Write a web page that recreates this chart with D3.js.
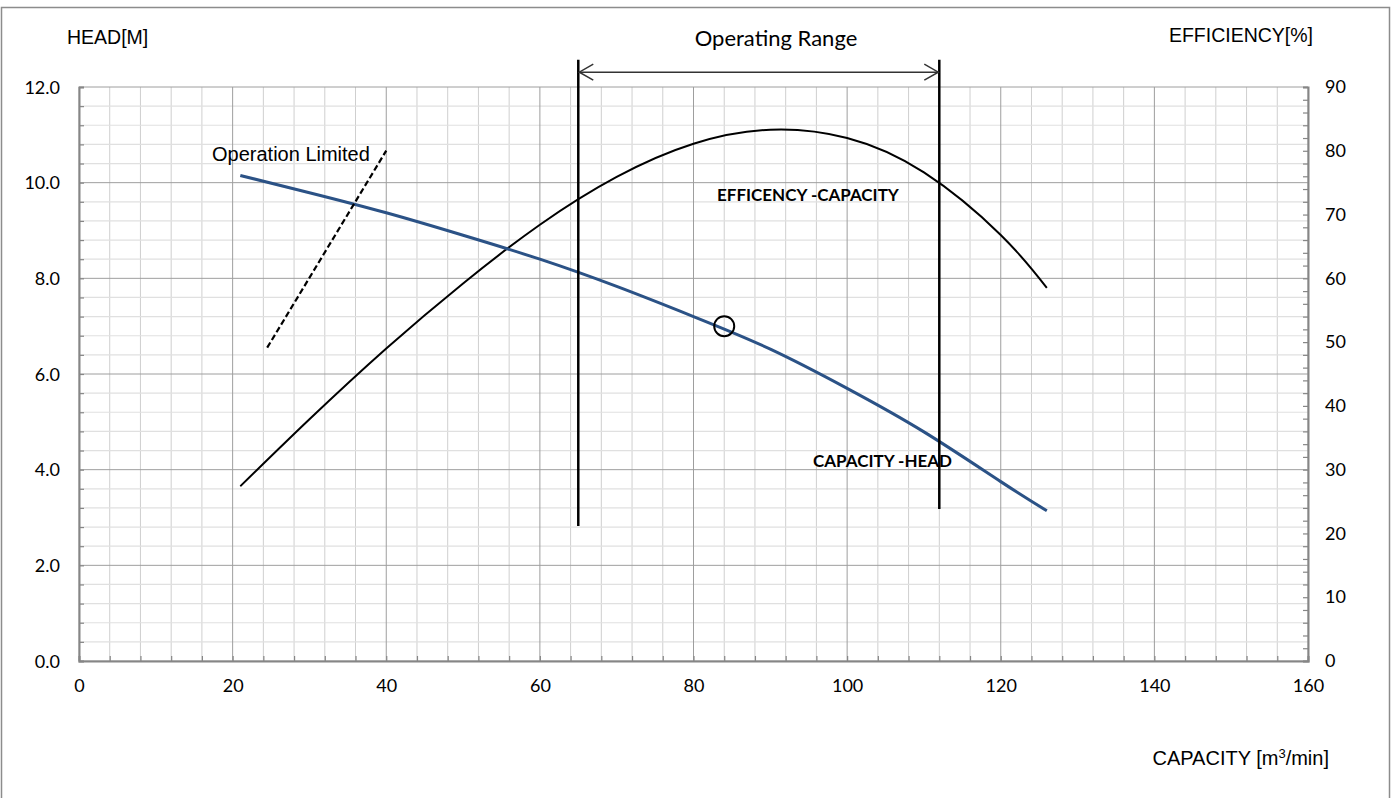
<!DOCTYPE html>
<html>
<head>
<meta charset="utf-8">
<script src="https://cdn.jsdelivr.net/npm/d3@7"></script>
<style>
  body { margin: 0; background: #fff; }
  text { fill: #000; }
</style>
</head>
<body>
<div id="chart"></div>
<script>
// head curve (capacity m3/min -> head m)
const headCapacity = [21, 30, 40, 50, 60, 70, 80, 90, 100, 110, 120, 126];
const headValues = [10.15, 9.79, 9.37, 8.9, 8.4, 7.83, 7.2, 6.52, 5.7, 4.79, 3.75, 3.14];

// efficiency curve (capacity -> %)
const effCapacity = [21, 30, 40, 50, 60, 70, 80, 90, 100, 110, 120, 126];
const effValues = [27.4, 37.9, 49.0, 59.2, 68.4, 75.9, 81.1, 83.3, 82.0, 76.6, 66.8, 58.5];

// operation limited dashed line, in head units
const limitCapacity = [24.5, 40];
const limitHead = [6.55, 10.67];

// rated point
const ratedPoint = { capacity: 84, head: 7.0 };

// operating range bounds (capacity) and how far the vertical lines run (head)
const rangeCapacity = [65, 112];
const rangeBottomHead = [2.82, 3.18];
const rangeTopHead = 12.57;
const rangeArrowHead = 12.31;

const xTicks = [0, 20, 40, 60, 80, 100, 120, 140, 160];
const headTicks = [0, 2, 4, 6, 8, 10, 12];
const effTicks = [0, 10, 20, 30, 40, 50, 60, 70, 80, 90];

const W = 1395, H = 798;
const margin = { top: 87, right: 87, bottom: 137, left: 79 };
const width = W - margin.left - margin.right;
const height = H - margin.top - margin.bottom;

const svg = d3.select("#chart").append("svg")
    .attr("width", W)
    .attr("height", H);

// outer chart border
svg.append("rect")
    .attr("x", 1.5).attr("y", 7.5)
    .attr("width", 1388).attr("height", 820)
    .attr("fill", "none")
    .attr("stroke", "#8c8c8c")
    .attr("stroke-width", 1.5);

const g = svg.append("g")
    .attr("transform", `translate(${margin.left},${margin.top})`);

const x = d3.scaleLinear().domain([0, 160]).range([0, width]);
const yHead = d3.scaleLinear().domain([0, 12]).range([height, 0]);
const yEff = d3.scaleLinear().domain([0, 90]).range([height, 0]);

// grid: minor first, then major
const minorX = d3.range(0, 161, 4).filter(v => v % 20 !== 0);
const minorY = d3.range(0, 12.01, 0.4).filter(v => Math.abs(v / 2 - Math.round(v / 2)) > 0.01);

g.selectAll(".vminor").data(minorX).enter().append("line")
    .attr("x1", d => x(d)).attr("x2", d => x(d))
    .attr("y1", 0).attr("y2", height)
    .attr("stroke", "#cfcfcf").attr("stroke-width", 1);

g.selectAll(".hminor").data(minorY).enter().append("line")
    .attr("x1", 0).attr("x2", width)
    .attr("y1", d => yHead(d)).attr("y2", d => yHead(d))
    .attr("stroke", "#e0e0e0").attr("stroke-width", 1.2);

g.selectAll(".vmajor").data(xTicks).enter().append("line")
    .attr("x1", d => x(d)).attr("x2", d => x(d))
    .attr("y1", 0).attr("y2", height)
    .attr("stroke", "#9e9e9e").attr("stroke-width", 1);

g.selectAll(".hmajor").data(headTicks).enter().append("line")
    .attr("x1", 0).attr("x2", width)
    .attr("y1", d => yHead(d)).attr("y2", d => yHead(d))
    .attr("stroke", "#9e9e9e").attr("stroke-width", 1);

// axes
const axisColor = "#868686";
const tickFont = "Lato, 'Open Sans', sans-serif";

const xAxis = g.append("g")
    .attr("transform", `translate(0,${height})`)
    .call(d3.axisBottom(x).tickValues(d3.range(0, 161, 4)).tickSize(-5).tickFormat(""));
const xLabels = g.append("g")
    .attr("transform", `translate(0,${height})`)
    .call(d3.axisBottom(x).tickValues(xTicks).tickSize(0).tickPadding(18).tickFormat(d3.format("d")));

const yAxis = g.append("g")
    .call(d3.axisLeft(yHead).tickValues(d3.range(0, 12.01, 0.4)).tickSize(-5).tickFormat(""));
const yLabels = g.append("g")
    .call(d3.axisLeft(yHead).tickValues(headTicks).tickSize(0).tickPadding(19).tickFormat(d3.format(".1f")));

const y2Axis = g.append("g")
    .attr("transform", `translate(${width},0)`)
    .call(d3.axisRight(yEff).tickValues(d3.range(0, 91, 2)).tickSize(-5).tickFormat(""));
const y2Labels = g.append("g")
    .attr("transform", `translate(${width},0)`)
    .call(d3.axisRight(yEff).tickValues(effTicks).tickSize(0).tickPadding(17).tickFormat(d3.format("d")));

[xAxis, yAxis, y2Axis].forEach(a => {
    a.select(".domain").attr("stroke", axisColor).attr("stroke-width", 2);
    a.selectAll(".tick line").attr("stroke", axisColor).attr("stroke-width", 1.2);
});
[xLabels, yLabels, y2Labels].forEach(a => {
    a.select(".domain").remove();
    a.selectAll("text")
        .attr("fill", "#000")
        .style("font-family", tickFont)
        .style("font-size", "18px");
});
yLabels.selectAll("text").attr("dy", "0.35em");

// curves
const headData = headCapacity.map((c, i) => ({ c, v: headValues[i] }));
const effData = effCapacity.map((c, i) => ({ c, v: effValues[i] }));

g.append("path")
    .datum(effData)
    .attr("fill", "none")
    .attr("stroke", "#000")
    .attr("stroke-width", 2)
    .attr("d", d3.line().x(d => x(d.c)).y(d => yEff(d.v)).curve(d3.curveNatural));

g.append("path")
    .datum(headData)
    .attr("fill", "none")
    .attr("stroke", "#2b5286")
    .attr("stroke-width", 3)
    .attr("d", d3.line().x(d => x(d.c)).y(d => yHead(d.v)).curve(d3.curveNatural));

// operation limited
g.append("line")
    .attr("x1", x(limitCapacity[0])).attr("y1", yHead(limitHead[0]))
    .attr("x2", x(limitCapacity[1])).attr("y2", yHead(limitHead[1]))
    .attr("stroke", "#000")
    .attr("stroke-width", 2.2)
    .attr("stroke-dasharray", "6,3");

// rated point marker
g.append("circle")
    .attr("cx", x(ratedPoint.capacity))
    .attr("cy", yHead(ratedPoint.head))
    .attr("r", 10)
    .attr("fill", "none")
    .attr("stroke", "#000")
    .attr("stroke-width", 2);

// operating range lines + arrow
rangeCapacity.forEach((c, i) => {
    g.append("line")
        .attr("x1", x(c)).attr("x2", x(c))
        .attr("y1", yHead(rangeTopHead)).attr("y2", yHead(rangeBottomHead[i]))
        .attr("stroke", "#000")
        .attr("stroke-width", 2.5);
});

const ax1 = x(rangeCapacity[0]) + 1, ax2 = x(rangeCapacity[1]) - 1, ay = yHead(rangeArrowHead);
g.append("line")
    .attr("x1", ax1).attr("x2", ax2).attr("y1", ay).attr("y2", ay)
    .attr("stroke", "#333").attr("stroke-width", 1.5);
g.append("path")
    .attr("d", `M${ax1 + 14},${ay - 8}L${ax1},${ay}L${ax1 + 14},${ay + 8}`)
    .attr("fill", "none").attr("stroke", "#333").attr("stroke-width", 1.5);
g.append("path")
    .attr("d", `M${ax2 - 14},${ay - 8}L${ax2},${ay}L${ax2 - 14},${ay + 8}`)
    .attr("fill", "none").attr("stroke", "#333").attr("stroke-width", 1.5);

// texts
const arial = "'Liberation Sans', Arial, sans-serif";

svg.append("text")
    .attr("x", 67).attr("y", 44)
    .style("font-family", arial).style("font-size", "19.5px")
    .text("HEAD[M]");

svg.append("text")
    .attr("x", 1313).attr("y", 42)
    .attr("text-anchor", "end")
    .style("font-family", arial).style("font-size", "19.5px")
    .text("EFFICIENCY[%]");

svg.append("text")
    .attr("x", 776).attr("y", 46)
    .attr("text-anchor", "middle")
    .style("font-family", tickFont).style("font-size", "22px")
    .text("Operating Range");

svg.append("text")
    .attr("x", 212).attr("y", 161)
    .style("font-family", arial).style("font-size", "20px")
    .text("Operation Limited");

const capLabel = svg.append("text")
    .attr("x", 1329).attr("y", 765)
    .attr("text-anchor", "end")
    .style("font-family", arial).style("font-size", "20px");
capLabel.append("tspan").text("CAPACITY [m");
capLabel.append("tspan").attr("font-size", "13px").attr("dy", -7).text("3");
capLabel.append("tspan").attr("dy", 7).text("/min]");

svg.append("text")
    .attr("x", 717).attr("y", 201)
    .style("font-family", tickFont).style("font-size", "17px").style("font-weight", "bold")
    .text("EFFICENCY -CAPACITY");

svg.append("text")
    .attr("x", 813).attr("y", 467)
    .style("font-family", tickFont).style("font-size", "17px").style("font-weight", "bold")
    .text("CAPACITY -HEAD");
</script>
</body>
</html>
